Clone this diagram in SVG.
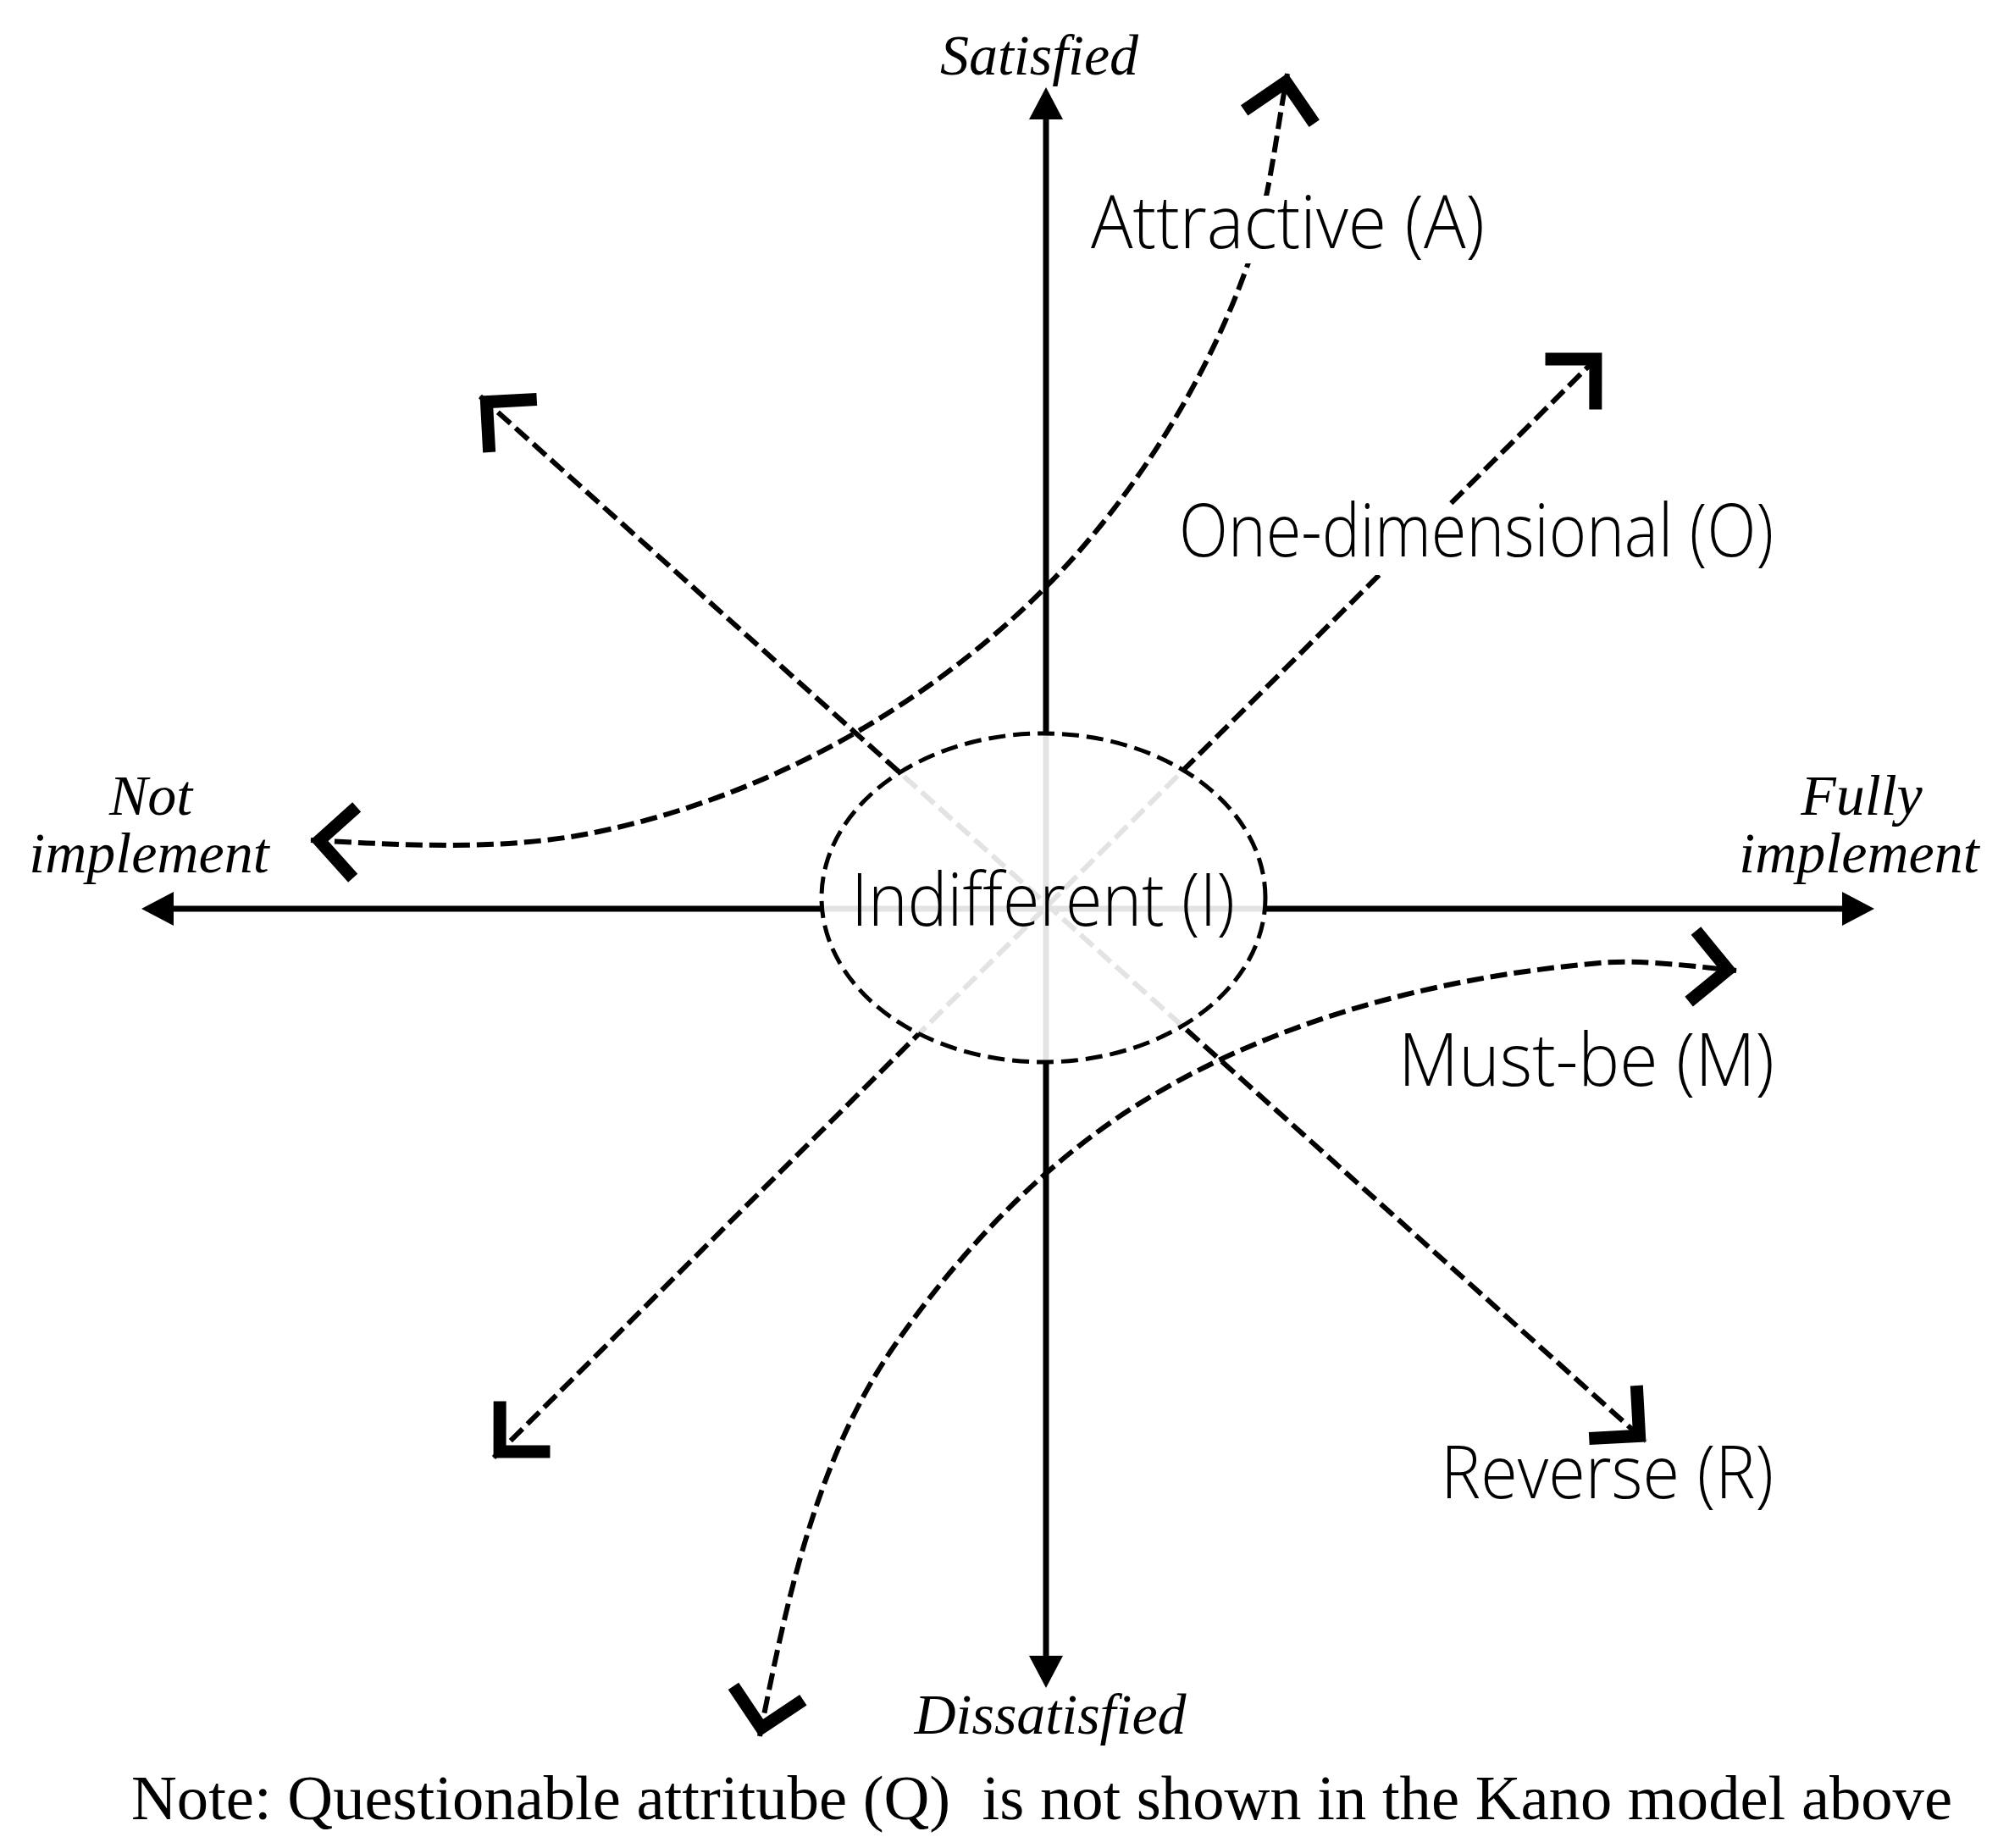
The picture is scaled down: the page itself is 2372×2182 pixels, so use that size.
<svg xmlns="http://www.w3.org/2000/svg" width="2372" height="2182" viewBox="0 0 2372 2182">
<style>
.axis{fill:none;stroke:#000;stroke-width:7;marker-start:url(#tri);marker-end:url(#tri)}
.dash{fill:none;stroke:#000;stroke-width:6;stroke-dasharray:20 8;marker-start:url(#chev);marker-end:url(#chev)}
.cat{font-family:"Open Sans","Segoe UI","Lato","DejaVu Sans",sans-serif;font-weight:300;font-size:86px;fill:#000}
.ax{font-family:"Liberation Serif","Times New Roman",serif;font-style:italic;font-size:68px;fill:#000;text-anchor:middle}
.note{font-family:"Liberation Serif","Times New Roman",serif;font-size:75px;fill:#000}
.bg{fill:#fff;stroke:none}
</style>
<defs>
<marker id="tri" markerUnits="userSpaceOnUse" viewBox="-30 -25 60 50" markerWidth="60" markerHeight="50" refX="0" refY="0" orient="auto-start-reverse">
<path d="M -18 -20 L 20 0 L -18 20 Z" fill="#000"/>
</marker>
<marker id="chev" markerUnits="userSpaceOnUse" viewBox="-80 -60 100 120" markerWidth="100" markerHeight="120" refX="0" refY="0" orient="auto-start-reverse">
<path d="M -52 -42 L -10 0 L -52 42" fill="none" stroke="#000" stroke-width="15" stroke-linejoin="miter" stroke-miterlimit="10"/>
</marker>
</defs>
<rect width="2372" height="2182" fill="#fff"/>
<g id="connectors">
<path id="axis-vertical" class="axis" d="M 1235 123 L 1235 1973"/>
<path id="axis-horizontal" class="axis" d="M 187 1073 L 2193 1073"/>
<path id="reverse-line" class="dash" d="M 567 468 L 1943 1702"/>
<path id="one-dimensional-line" class="dash" d="M 583 1721 L 1891 417"/>
<path id="attractive-curve" class="dash" d="M 367 992 C 479 998 592 1005 702 983 C 809 961 912 921 1007 867 C 1118 803 1220 720 1300 620 C 1374 528 1435 421 1474 310 C 1499 238 1506 162 1520 87"/>
<path id="must-be-curve" class="dash" d="M 897 2050 C 929 1889 964 1720 1058 1586 C 1137 1473 1237 1368 1355 1297 C 1514 1201 1704 1153 1889 1137 C 1939 1133 1990 1140 2050 1146"/>
</g>
<g id="node-indifferent">
<ellipse cx="1232" cy="1060" rx="262" ry="194" fill="#fff" fill-opacity="0.89" stroke="#000" stroke-width="5" stroke-dasharray="20 9"/>
<text class="cat" x="1005" y="1093" textLength="453" lengthAdjust="spacingAndGlyphs">Indifferent (I)</text>
</g>
<g id="label-attractive">
<rect class="bg" x="1282" y="231" width="480" height="80"/>
<text class="cat" x="1288" y="293" textLength="465" lengthAdjust="spacingAndGlyphs">Attractive (A)</text>
</g>
<g id="label-one-dimensional">
<rect class="bg" x="1386" y="597" width="712" height="82"/>
<text class="cat" x="1392" y="657" textLength="702" lengthAdjust="spacingAndGlyphs">One-dimensional (O)</text>
</g>
<g id="label-must-be">
<text class="cat" x="1651" y="1282" textLength="444" lengthAdjust="spacingAndGlyphs">Must-be (M)</text>
</g>
<g id="label-reverse">
<text class="cat" x="1701" y="1769" textLength="393" lengthAdjust="spacingAndGlyphs">Reverse (R)</text>
</g>
<g id="label-satisfied">
<text class="ax" x="1227" y="88">Satisfied</text>
</g>
<g id="label-dissatisfied">
<text class="ax" x="1240" y="2047">Dissatisfied</text>
</g>
<g id="label-not-implement">
<text class="ax" x="178" y="962">Not</text>
<text class="ax" x="176" y="1030">implement</text>
</g>
<g id="label-fully-implement">
<text class="ax" x="2198" y="962">Fully</text>
<text class="ax" x="2195" y="1030">implement</text>
</g>
<g id="note">
<text class="note" x="155" y="2148" textLength="2150" lengthAdjust="spacingAndGlyphs" xml:space="preserve">Note: Questionable attritube (Q)  is not shown in the Kano model above</text>
</g>
</svg>
